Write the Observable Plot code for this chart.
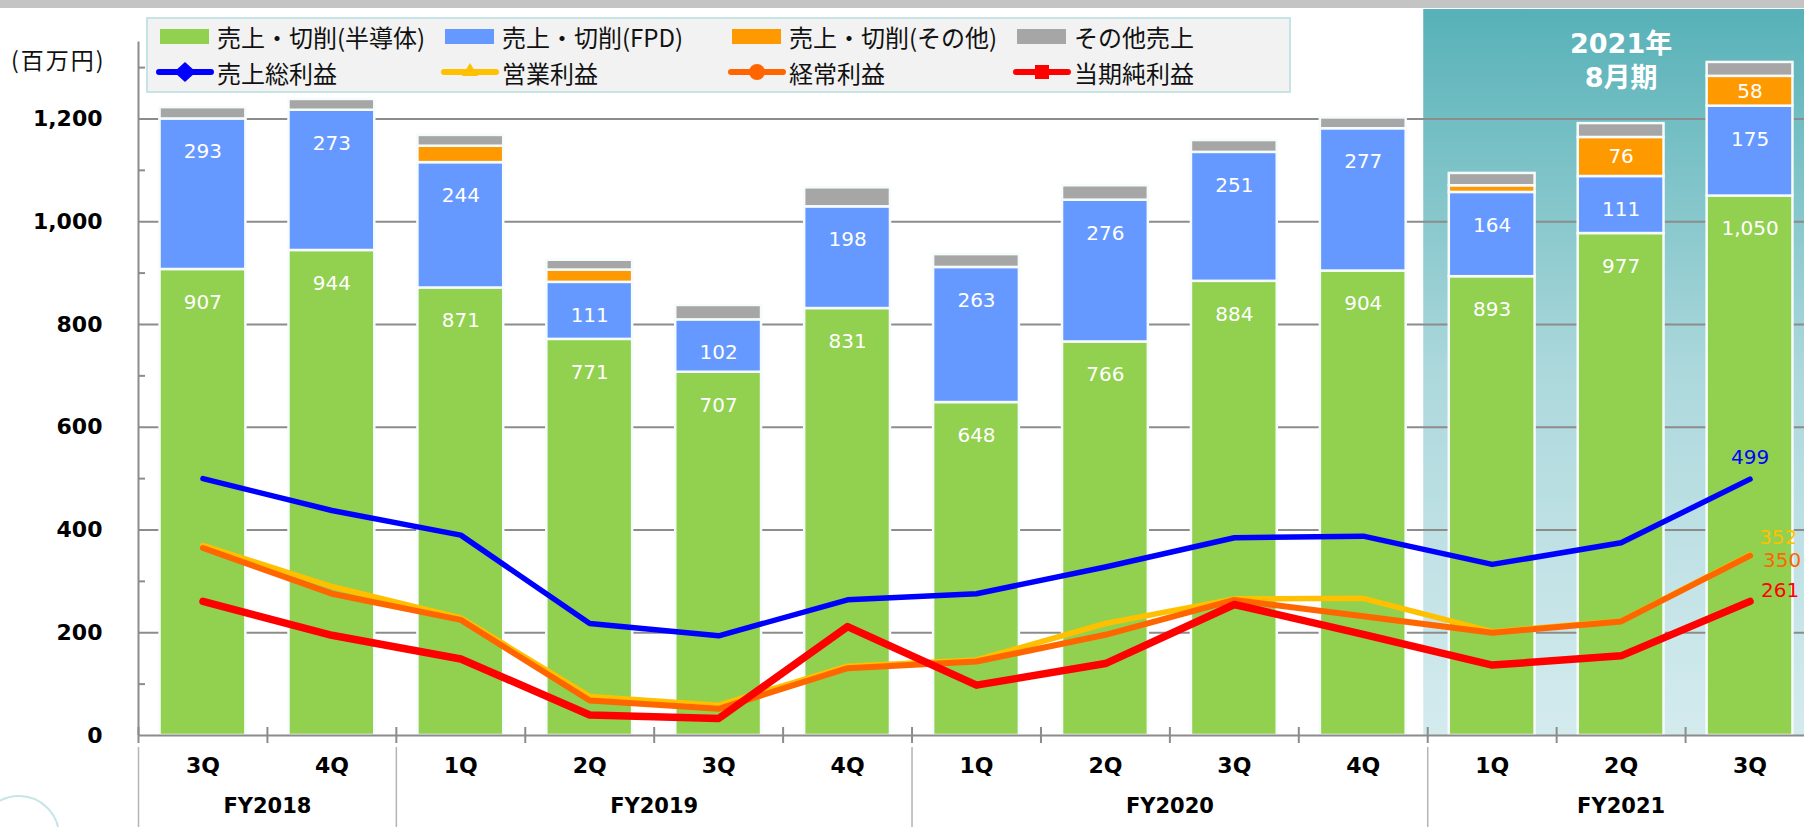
<!DOCTYPE html>
<html><head><meta charset="utf-8">
<script src="https://cdn.jsdelivr.net/npm/d3@7"></script>
<script src="https://cdn.jsdelivr.net/npm/@observablehq/plot@0.6"></script>
<style>
html,body{margin:0;padding:0;background:#fff;}
#wrap{position:relative;width:1804px;height:827px;overflow:hidden;font-family:"Noto Sans CJK JP","Noto Sans",sans-serif;background:#fff;}
#chart{position:absolute;left:0;top:0;}
#topbar{position:absolute;left:0;top:0;width:1804px;height:8px;background:#c4c4c4;}
#unit{position:absolute;left:11px;top:43px;font-size:23px;line-height:32px;color:#111;letter-spacing:2px;}
#legend{position:absolute;left:146px;top:17px;width:1145px;height:76px;background:#f2f2f2;border:2px solid #c6e3e6;box-sizing:border-box;}
.li{position:absolute;display:flex;align-items:center;height:34px;font-size:24px;color:#111;white-space:nowrap;}
.sw{display:inline-block;width:49px;height:15px;margin-right:8px;}
.ls{display:inline-block;margin-right:3px;}
#badge{position:absolute;left:-22px;top:795px;width:82px;height:82px;border-radius:50%;background:#fff;border:2px solid #c6e5e8;box-sizing:border-box;}
</style></head>
<body>
<div id="wrap">
  <div id="chart"></div>
  <div id="topbar"></div>
  <div id="unit">(百万円)</div>
  <div id="legend"></div>
  <div id="badge"></div>
</div>
<script>
// ---------------- data ----------------
const fiscalYears = ["FY2018","FY2018","FY2019","FY2019","FY2019","FY2019","FY2020","FY2020","FY2020","FY2020","FY2021","FY2021","FY2021"];
const quarters = ["3Q","4Q","1Q","2Q","3Q","4Q","1Q","2Q","3Q","4Q","1Q","2Q","3Q"];
const salesSemiconductor = [907, 944, 871, 771, 707, 831, 648, 766, 884, 904, 893, 977, 1050];
const salesFPD = [293, 273, 244, 111, 102, 198, 263, 276, 251, 277, 164, 111, 175];
const salesOtherCutting = [0, 0, 32, 24, 0, 0, 0, 0, 0, 0, 13, 76, 58];
const otherSales = [22, 21, 21, 19, 28, 37, 25, 28, 23, 21, 24, 27, 27];
const grossProfit = [500, 438, 390, 218, 194, 264, 276, 328, 385, 388, 333, 375, 499];
const operatingProfit = [370, 290, 229, 76, 59, 135, 147, 218, 266, 267, 202, 223, 352];
const ordinaryProfit = [365, 276, 225, 68, 52, 131, 144, 196, 264, 232, 200, 222, 350];
const netProfit = [261, 195, 149, 40, 33, 212, 98, 140, 255, 197, 137, 155, 261];
const barSeriesNames = ["売上・切削(半導体)", "売上・切削(FPD)", "売上・切削(その他)", "その他売上"];
const lineSeriesNames = ["売上総利益", "営業利益", "経常利益", "当期純利益"];
const yMajorTicks = [0, 200, 400, 600, 800, 1000, 1200];
const yMinorTicks = [100, 300, 500, 700, 900, 1100, 1300];
const currentYear = "FY2021";
const headerLines = ["2021年", "8月期"];

// ---------------- styles ----------------
const barColors = ["#92d050", "#6699ff", "#ff9900", "#a6a6a6"];
const lineColors = ["#0000ff", "#ffc000", "#ff6600", "#ff0000"];
const lineWidths = [5.5, 5.5, 6, 7.5];
const gridColor = "#8c8c8c";
const fmt = d3.format(",");

// ---------------- layout ----------------
const W = 1804, H = 827;
const mLeft = 138, mTop = 41.4, mBottom = 92;
const xRange = [138, 1814];
const padIn = 0.35, padOut = 0.175;
const yMax = 1350;
const keys = fiscalYears.map((fy, i) => fy + "-" + quarters[i]);
const step = (xRange[1] - xRange[0]) / (keys.length - padIn + 2 * padOut);
const bw = step * (1 - padIn);
const halfStep = step / 2;
const gapHalf = step * padIn / 2;
const pxPerUnit = (H - mBottom - mTop) / yMax;
const px = p => p / pxPerUnit; // pixel length -> data units
const headerTop = px(H - mBottom - 9);

// ---------------- tables ----------------
const barSeries = [salesSemiconductor, salesFPD, salesOtherCutting, otherSales];
const barRows = [];
keys.forEach((k, i) => {
  let cum = 0;
  barSeries.forEach((vals, s) => {
    const v = vals[i];
    if (v > 0) barRows.push({key: k, series: barSeriesNames[s], s, value: v, y1: cum, y2: cum + v});
    cum += v;
  });
});
const topLabels = barRows.filter(d => d.s <= 1);
const midLabels = barRows.filter(d => d.s === 2 && d.value >= 50);

const lineSeries = [grossProfit, operatingProfit, ordinaryProfit, netProfit];
const lineRows = lineSeries.map((vals, s) => keys.map((k, i) => ({key: k, series: lineSeriesNames[s], value: vals[i]})));
const endLabelOpts = [
  {textAnchor: "middle", dx: 0, dy: -22},
  {textAnchor: "start", dx: 9, dy: -17},
  {textAnchor: "start", dx: 13, dy: 5},
  {textAnchor: "start", dx: 11, dy: -11}
];

const currentKeys = keys.filter((k, i) => fiscalYears[i] === currentYear);
const groups = [];
fiscalYears.forEach((fy, i) => {
  let g = groups.find(g => g.fy === fy);
  if (!g) { g = {fy, keys: []}; groups.push(g); }
  g.keys.push(keys[i]);
});
const evenGroups = groups.filter(g => g.keys.length % 2 === 0).map(g => ({fy: g.fy, key: g.keys[g.keys.length / 2]}));
const oddGroups = groups.filter(g => g.keys.length % 2 === 1).map(g => ({fy: g.fy, key: g.keys[(g.keys.length - 1) / 2]}));
const groupStarts = groups.map(g => g.keys[0]);
const headerKey = oddGroups.find(g => g.fy === currentYear).key;

// ---------------- marks ----------------
const marks = [
  // current-year highlight
  Plot.barY(currentKeys, {x: d => d, y1: () => 0, y2: () => headerTop, fill: "url(#tealGrad)",
    insetLeft: -gapHalf - 4, insetRight: -gapHalf - 0.6}),
  // grid
  Plot.ruleY(yMajorTicks.filter(d => d > 0), {y: d => d, stroke: gridColor, strokeWidth: 2}),
  // bars
  Plot.barY(barRows, {x: "key", y1: "y1", y2: "y2", fill: "series", stroke: "#f6fbfb", strokeWidth: 2.5,
    insetLeft: -1, insetRight: -1}),
  // bar labels
  Plot.text(topLabels, {x: "key", y: "y2", dy: 33, text: d => fmt(d.value), fill: "white", fontSize: 20}),
  Plot.text(midLabels, {x: "key", y: d => (d.y1 + d.y2) / 2, text: d => fmt(d.value), fill: "white", fontSize: 20}),
  // lines
  ...lineRows.map((rows, s) => Plot.line(rows, {x: "key", y: "value", stroke: lineColors[s], strokeWidth: lineWidths[s],
    strokeLinejoin: "round", strokeLinecap: "round"})),
  // end labels
  ...lineRows.map((rows, s) => Plot.text([rows[rows.length - 1]], {x: "key", y: "value", text: d => fmt(d.value),
    fill: lineColors[s], fontSize: 20, ...endLabelOpts[s]})),
  // axes
  Plot.ruleY([0], {y: d => d, stroke: gridColor, strokeWidth: 2}),
  Plot.ruleX([keys[0]], {x: d => d, dx: -halfStep, y1: () => 0, y2: () => yMax, stroke: gridColor, strokeWidth: 2}),
  Plot.tickY(yMinorTicks, {y: d => d, x: () => keys[0], dx: -(step * padOut), insetRight: bw - 7, stroke: gridColor, strokeWidth: 2}),
  Plot.text(yMajorTicks, {y: d => d, frameAnchor: "left", dx: -36, textAnchor: "end", text: d => fmt(d),
    fontWeight: "bold", fontSize: 22, fill: "#000"}),
  Plot.ruleX(keys, {x: d => d, dx: -halfStep, y1: () => -px(8), y2: () => px(8), stroke: gridColor, strokeWidth: 2}),
  Plot.ruleX(groupStarts, {x: d => d, dx: -halfStep, y1: () => -px(12), y2: () => -px(95), stroke: "#b4b4b4", strokeWidth: 1.5}),
  Plot.text(keys, {x: d => d, text: (d, i) => quarters[i], frameAnchor: "bottom", dy: 37, fontWeight: "bold", fontSize: 22, fill: "#000"}),
  Plot.text(evenGroups, {x: "key", dx: -halfStep, text: "fy", frameAnchor: "bottom", dy: 77, fontWeight: "bold", fontSize: 21, fill: "#000"}),
  Plot.text(oddGroups, {x: "key", text: "fy", frameAnchor: "bottom", dy: 77, fontWeight: "bold", fontSize: 21, fill: "#000"}),
  // header
  Plot.text([headerKey], {x: d => d, text: () => headerLines[0], frameAnchor: "top", dy: -8, fill: "white", fontWeight: "bold", fontSize: 27}),
  Plot.text([headerKey], {x: d => d, text: () => headerLines[1], frameAnchor: "top", dy: 26, fill: "white", fontWeight: "bold", fontSize: 27})
];

const plot = Plot.plot({
  width: W, height: H,
  marginLeft: mLeft, marginRight: 0, marginTop: mTop, marginBottom: mBottom,
  style: {background: "transparent", fontFamily: "'DejaVu Sans', 'Noto Sans CJK JP', sans-serif", fontSize: "20px", maxWidth: "none"},
  x: {domain: keys, range: xRange, paddingInner: padIn, paddingOuter: padOut, round: false, axis: null},
  y: {domain: [0, yMax], axis: null},
  color: {domain: barSeriesNames, range: barColors},
  marks
});
document.getElementById("chart").appendChild(plot);

// gradient definition for the highlighted fiscal year
const svg = d3.select(plot);
const defs = svg.insert("defs", ":first-child");
const grad = defs.append("linearGradient").attr("id", "tealGrad").attr("x1", 0).attr("y1", 0).attr("x2", 0).attr("y2", 1);
[[0, "#57b1b8"], [0.2, "#79c1c6"], [0.5, "#acd8dc"], [1, "#d4ebee"]].forEach(([o, c]) =>
  grad.append("stop").attr("offset", o).attr("stop-color", c));

// ---------------- legend ----------------
const legend = d3.select("#legend");
const colLeft = [12, 297, 584, 869];
barSeriesNames.forEach((name, i) => {
  const it = legend.append("div").attr("class", "li").style("left", colLeft[i] + "px").style("top", "0px");
  it.append("span").attr("class", "sw").style("background", barColors[i]);
  it.append("span").text(name);
});
const markerFns = [
  g => g.append("path").attr("d", "M29,0 L40,10 L29,20 L18,10 Z"),
  g => g.append("path").attr("d", "M29,1 L37,14 L21,14 Z"),
  g => g.append("circle").attr("cx", 29).attr("cy", 10).attr("r", 8),
  g => g.append("rect").attr("x", 22).attr("y", 3).attr("width", 14).attr("height", 14)
];
lineSeriesNames.forEach((name, i) => {
  const it = legend.append("div").attr("class", "li").style("left", (colLeft[i] - 4) + "px").style("top", "36px");
  const s = it.append("svg").attr("class", "ls").attr("width", 58).attr("height", 20);
  s.append("line").attr("x1", 3).attr("x2", 55).attr("y1", 10).attr("y2", 10)
    .attr("stroke", lineColors[i]).attr("stroke-width", 6).attr("stroke-linecap", "round");
  markerFns[i](s).attr("fill", lineColors[i]);
  it.append("span").text(name);
});
</script>
</body></html>
